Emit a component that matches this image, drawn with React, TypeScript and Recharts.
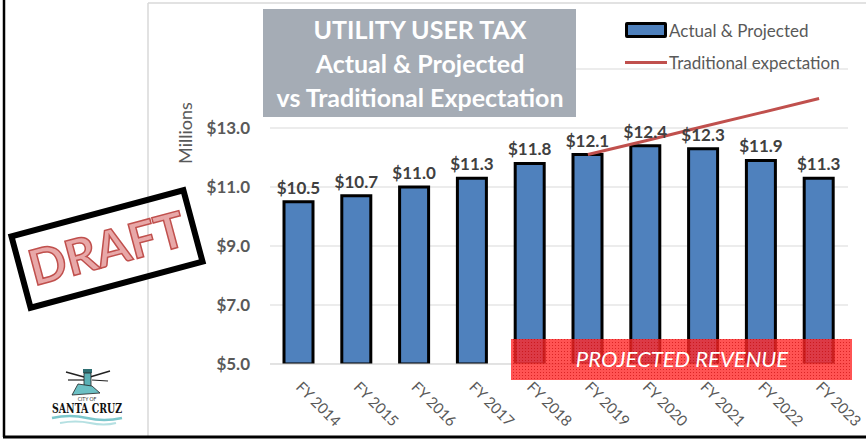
import { ComposedChart, Bar, Line, XAxis, YAxis, CartesianGrid, LabelList, Legend } from 'recharts'

const categories = ['FY 2014', 'FY 2015', 'FY 2016', 'FY 2017', 'FY 2018', 'FY 2019', 'FY 2020', 'FY 2021', 'FY 2022', 'FY 2023']
const actualProjected = [10.5, 10.7, 11.0, 11.3, 11.8, 12.1, 12.4, 12.3, 11.9, 11.3]
const traditionalExpectation = [null, null, null, null, null, 12.1, 12.57, 13.05, 13.52, 14.0]
const yTicks = [5, 7, 9, 11, 13]
const titleLines = ['UTILITY USER TAX', 'Actual & Projected', 'vs Traditional Expectation']

const FONT = 'Lato, "Open Sans", sans-serif'
const GRAY = '#595959'
const BLUE = '#4F81BD'
const RED = '#C0504D'

const chartData = categories.map((name, i) => ({
  name,
  actual: actualProjected[i],
  traditional: traditionalExpectation[i],
}))

const money = (v: number) => `$${v.toFixed(1)}`

function XTick({ x, y, payload }: any) {
  return (
    <g transform={`translate(${x - 4},${y + 24})`}>
      <text transform="rotate(45)" textAnchor="start" fontSize={15} fill={GRAY} fontFamily={FONT}>
        {payload.value}
      </text>
    </g>
  )
}

function LegendBox({ payload }: any) {
  return (
    <div style={{ fontFamily: FONT, fontSize: 17, color: GRAY }}>
      {(payload || []).map((entry: any) => (
        <div key={entry.value} style={{ display: 'flex', alignItems: 'center', height: 32 }}>
          {entry.type === 'line' ? (
            <div style={{ width: 42, height: 3, background: RED, marginRight: 2 }} />
          ) : (
            <div style={{ width: 36, height: 10, background: BLUE, border: '3px solid black', borderRadius: 2, marginRight: 2 }} />
          )}
          <span>{entry.value}</span>
        </div>
      ))}
    </div>
  )
}

function Overlay() {
  return (
    <svg width={866} height={444} style={{ position: 'absolute', left: 0, top: 0, pointerEvents: 'none' }}>
      <defs>
        <pattern id="grid" width="3" height="3" patternUnits="userSpaceOnUse">
          <rect width="3" height="3" fill="rgba(255,40,40,0.8)" />
          <rect width="1" height="1" fill="rgba(190,0,0,0.55)" />
        </pattern>
      </defs>
      {/* frames */}
      <line x1={148} y1={3} x2={866} y2={3} stroke="#D9D9D9" strokeWidth={1.5} />
      <line x1={148} y1={3} x2={148} y2={437} stroke="#D9D9D9" strokeWidth={1.5} />
      <line x1={4} y1={0} x2={4} y2={437} stroke="black" strokeWidth={2.5} />
      <line x1={3} y1={437} x2={866} y2={437} stroke="black" strokeWidth={3} />

      {/* title box */}
      <rect x={263} y={9} width={313} height={108} fill="#A5ACB5" />
      {titleLines.map((t, i) => (
        <text key={t} x={420} y={39 + i * 34} textAnchor="middle" fontSize={25} fontWeight="bold" fill="white" fontFamily={FONT}>
          {t}
        </text>
      ))}

      {/* axis title */}
      <text transform="translate(192,133) rotate(-90)" textAnchor="middle" fontSize={18} fill={GRAY} fontFamily={FONT}>
        Millions
      </text>

      {/* projected revenue */}
      <rect x={511} y={339} width={341} height={41} fill="url(#grid)" />
      <text x={682} y={367} textAnchor="middle" fontSize={22} fontStyle="italic" fill="white" fontFamily={FONT}>
        PROJECTED REVENUE
      </text>

      {/* draft stamp */}
      <g transform="translate(107,249) rotate(-15)">
        <rect x={-89} y={-37} width={178} height={74} fill="none" stroke="black" strokeWidth={6} />
        <text x={0} y={17} textAnchor="middle" fontSize={49} fontWeight="bold" fill="#E8A8A8" stroke={RED} strokeWidth={1.5} fontFamily={FONT}>
          DRAFT
        </text>
      </g>

      {/* city logo */}
      <g>
        <line x1={66} y1={372} x2={84} y2={377} stroke="#222" strokeWidth={1.5} />
        <line x1={90} y1={377} x2={110} y2={371} stroke="#222" strokeWidth={1.5} />
        <line x1={68} y1={380} x2={84} y2={380} stroke="#222" strokeWidth={1.2} />
        <line x1={92} y1={380} x2={108} y2={381} stroke="#222" strokeWidth={1.2} />
        <rect x={83} y={369} width={9} height={4} fill="#2f6f73" />
        <rect x={84} y={373} width={7} height={14} fill="#5ab0b5" stroke="#222" strokeWidth={0.8} />
        <path d="M72 395 L78 384 L92 386 L100 393 Z" fill="#6cc0c4" stroke="#222" strokeWidth={0.8} />
        <text x={87} y={401} textAnchor="middle" fontSize={5} fill="#333" fontFamily={FONT}>CITY OF</text>
        <text x={87} y={413} textAnchor="middle" fontSize={12} fontWeight={900} fill="#111" fontFamily="'DejaVu Serif', serif" textLength={70} lengthAdjust="spacingAndGlyphs">
          SANTA CRUZ
        </text>
        <path d="M52 418 Q70 414 87 418 T122 418" fill="none" stroke="#7cc7cc" strokeWidth={2.5} />
        <path d="M60 423 Q76 420 90 423 T116 423" fill="none" stroke="#b5e0e2" strokeWidth={2} />
      </g>
    </svg>
  )
}

export default function App() {
  return (
    <div style={{ position: 'absolute', left: 0, top: 0, width: 866, height: 444, background: 'white' }}>
      <ComposedChart width={866} height={444} data={chartData} margin={{ top: 69, right: 18, bottom: 0, left: 0 }}>
        <CartesianGrid vertical={false} stroke="#D9D9D9" />
        <XAxis
          dataKey="name"
          interval={0}
          height={80}
          tickLine={false}
          tickSize={0}
          tickMargin={0}
          axisLine={{ stroke: '#D9D9D9' }}
          tick={<XTick />}
        />
        <YAxis
          width={270}
          domain={[5, 15]}
          ticks={yTicks}
          allowDataOverflow
          axisLine={false}
          tickLine={false}
          tickSize={0}
          tickMargin={20}
          tickFormatter={money}
          tick={{ fontSize: 17, fontWeight: 'bold', fill: GRAY, fontFamily: FONT }}
        />
        <Legend
          layout="vertical"
          align="center"
          verticalAlign="middle"
          wrapperStyle={{ top: 14, left: 625, width: 240 }}
          content={<LegendBox />}
        />
        <Bar dataKey="actual" name="Actual & Projected" fill={BLUE} stroke="black" strokeWidth={3} barSize={29} isAnimationActive={false} legendType="rect">
          <LabelList dataKey="actual" position="top" offset={8} formatter={money} fontSize={17} fontWeight="bold" fill="#404040" fontFamily={FONT} />
        </Bar>
        <Line
          dataKey="traditional"
          name="Traditional expectation"
          type="linear"
          stroke={RED}
          strokeWidth={3}
          dot={false}
          activeDot={false}
          isAnimationActive={false}
          legendType="line"
        />
      </ComposedChart>
      <Overlay />
    </div>
  )
}
